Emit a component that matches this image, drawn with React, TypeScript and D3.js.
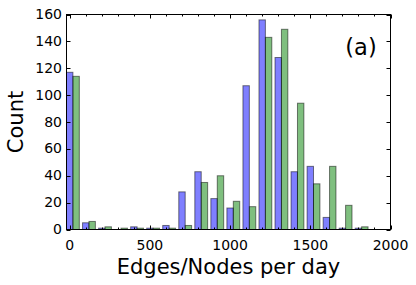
import React from "react";
import * as d3 from "d3";

// Histogram bins (counts per 100-unit bin)
const binStarts = [-20, 80, 180, 280, 380, 480, 580, 680, 780, 880, 980, 1080, 1180, 1280, 1380, 1480, 1580, 1680, 1780, 1880];
const edgesCounts = [117, 5, 1, 0, 2, 1, 3, 28, 43, 23, 16, 107, 156, 128, 43, 47, 9, 1, 1, 0];
const nodesCounts = [114, 6, 2, 1, 1, 1, 1, 3, 35, 40, 21, 17, 143, 149, 94, 34, 47, 18, 2, 0];
const binWidth = 100;
const xMajorTicks = [0, 500, 1000, 1500, 2000];
const xMinorTicks = [100, 200, 300, 400, 600, 700, 800, 900, 1100, 1200, 1300, 1400, 1600, 1700, 1800, 1900];
const yTicks = [0, 20, 40, 60, 80, 100, 120, 140, 160];

const W = 416;
const H = 285;
const L = 66.5, R = 390.5, T = 14.5, B = 229.5;

export default function App() {
  const x = d3.scaleLinear().domain([-20, 2000]).range([L, R]);
  const y = d3.scaleLinear().domain([0, 160]).range([B, T]);
  const barW = (x(binWidth * 0.4) - x(0));
  const font = "DejaVu Sans, sans-serif";

  return (
    <svg width={W} height={H} style={{ position: "absolute", left: 0, top: 0 }} fontFamily={font}>
      <rect x={0} y={0} width={W} height={H} fill="white" />
      <g>
        {binStarts.map((s, i) => (
          <g key={i}>
            <rect
              x={x(s)}
              y={y(edgesCounts[i])}
              width={barW}
              height={y(0) - y(edgesCounts[i])}
              fill="rgb(0,0,255)"
              fillOpacity={0.5}
              stroke="black"
              strokeOpacity={0.5}
              strokeWidth={1}
            />
            <rect
              x={x(s) + barW}
              y={y(nodesCounts[i])}
              width={barW}
              height={y(0) - y(nodesCounts[i])}
              fill="rgb(0,128,0)"
              fillOpacity={0.5}
              stroke="black"
              strokeOpacity={0.5}
              strokeWidth={1}
            />
          </g>
        ))}
      </g>
      {/* ticks */}
      <g stroke="black" strokeWidth={1}>
        {xMajorTicks.map((t) => (
          <g key={"xm" + t}>
            <line x1={Math.round(x(t)) + 0.5} x2={Math.round(x(t)) + 0.5} y1={B} y2={B - 4} />
            <line x1={Math.round(x(t)) + 0.5} x2={Math.round(x(t)) + 0.5} y1={T} y2={T + 4} />
          </g>
        ))}
        {xMinorTicks.map((t) => (
          <g key={"xn" + t}>
            <line x1={Math.round(x(t)) + 0.5} x2={Math.round(x(t)) + 0.5} y1={B} y2={B - 2} />
            <line x1={Math.round(x(t)) + 0.5} x2={Math.round(x(t)) + 0.5} y1={T} y2={T + 2} />
          </g>
        ))}
        {yTicks.map((t) => (
          <g key={"y" + t}>
            <line x1={L} x2={L + 4} y1={Math.round(y(t)) + 0.5} y2={Math.round(y(t)) + 0.5} />
            <line x1={R} x2={R - 4} y1={Math.round(y(t)) + 0.5} y2={Math.round(y(t)) + 0.5} />
          </g>
        ))}
      </g>
      <rect x={L} y={T} width={R - L} height={B - T} fill="none" stroke="black" strokeWidth={1} />
      {/* tick labels */}
      <g fontSize={14} fill="black">
        {xMajorTicks.map((t) => (
          <text key={"xl" + t} x={x(t)} y={250} textAnchor="middle">{t}</text>
        ))}
        {yTicks.map((t) => (
          <text key={"yl" + t} x={62} y={y(t) + 4.5} textAnchor="end">{t}</text>
        ))}
      </g>
      <text x={228.5} y={273.5} textAnchor="middle" fontSize={21}>Edges/Nodes per day</text>
      <text transform={`translate(22.6,122) rotate(-90)`} textAnchor="middle" fontSize={21}>Count</text>
      <text x={361} y={55} textAnchor="middle" fontSize={22.5}>(a)</text>
    </svg>
  );
}
